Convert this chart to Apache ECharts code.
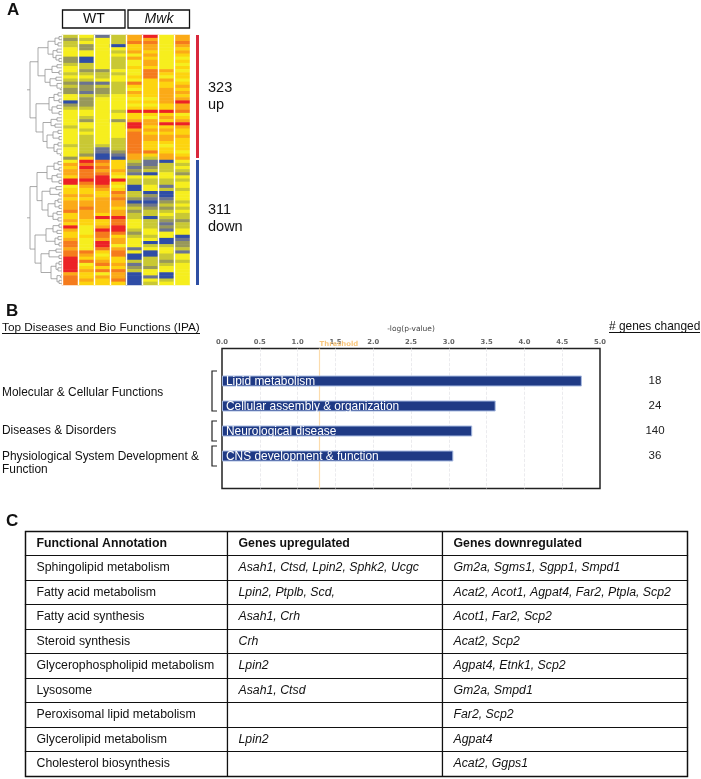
<!DOCTYPE html>
<html><head><meta charset="utf-8">
<style>html,body{margin:0;padding:0;background:#fff}#c{width:701px;height:779px}</style>
<script src="https://cdn.jsdelivr.net/npm/echarts@6/dist/echarts.min.js"></script>
</head><body><div id="c"></div>
<script>
// ---- Panel A: expression level codes, 0 = blue ... 8 = red, top to bottom
const wt1 = [3,2,3,3,4,4,4,2,2,3,4,4,3,4,3,2,3,2,2,4,4,0,2,3,4,4,4,4,4,3,4,4,4,4,4,3,4,4,4,2, 4,6,5,6,6,5,8,8,4,5,5,6,5,6,6,6,7,5,5,6,5,8,6,5,5,6,7,7,6,7,7,8,8,8,8,8,6,7,7,7];
const wt2 = [4,3,4,2,2,4,4,0,0,3,3,2,3,4,3,1,2,2,1,3,2,2,2,3,4,4,3,2,4,4,3,4,3,3,3,3,3,3,2,5, 8,7,8,7,7,7,8,7,6,5,5,6,5,6,6,7,6,6,6,5,5,4,4,4,5,4,4,4,4,7,6,5,7,4,5,6,5,5,6,5];
const wt3 = [1,4,4,4,4,4,4,4,4,4,4,2,3,3,4,1,3,2,2,3,4,4,4,4,4,4,4,4,4,4,4,4,4,4,4,3,1,1,0,0, 7,6,7,6,7,8,8,8,7,6,5,5,6,6,6,6,6,5,8,5,5,6,8,7,7,6,8,8,7,5,4,5,6,7,5,7,4,6,5,5];
const wt4 = [3,3,3,0,4,3,4,3,3,3,3,4,3,4,4,3,3,3,3,4,4,4,4,4,3,4,4,2,4,4,4,4,4,3,3,3,3,2,1,0, 5,5,5,6,5,4,8,5,4,5,7,6,7,6,6,5,6,6,8,7,7,8,8,7,5,6,6,4,6,7,7,5,5,6,5,7,6,6,7,5];
const mwk1 = [6,6,7,5,5,6,4,6,4,4,5,4,4,5,4,7,5,4,6,5,4,5,4,5,8,5,5,6,8,8,6,7,7,7,7,7,7,7,6,6, 3,2,1,2,1,4,3,3,0,0,3,3,2,0,2,3,2,3,3,4,4,4,3,2,3,4,4,4,1,4,0,0,3,1,2,3,0,0,0,0];
const mwk2 = [8,6,7,6,6,5,6,5,6,6,5,7,7,7,5,5,5,5,5,5,4,5,4,5,8,5,4,6,6,5,6,5,6,6,5,5,5,7,5,3, 1,1,2,3,0,4,3,3,4,4,0,2,1,0,1,2,3,3,0,3,3,3,4,4,3,4,0,3,4,0,0,3,3,3,2,4,4,1,4,3];
const mwk3 = [4,4,4,4,4,4,4,4,4,4,4,6,5,4,6,5,5,6,6,6,6,6,5,5,8,5,6,5,8,5,6,5,6,6,5,4,5,5,6,6, 0,3,3,3,4,4,3,3,1,3,0,0,1,2,3,2,3,4,3,2,1,2,1,4,4,0,0,3,4,4,3,3,2,3,4,4,0,0,3,4];
const mwk4 = [6,6,7,6,5,6,5,4,5,4,5,4,5,5,4,5,6,5,6,5,6,8,6,6,7,4,5,6,8,6,5,5,6,5,5,5,5,4,5,6, 4,3,4,3,2,4,3,4,4,3,4,4,4,3,4,3,4,3,3,2,3,3,4,4,0,1,2,2,3,1,4,4,3,4,4,4,4,4,4,4];
const heatColumns = [wt1, wt2, wt3, wt4, mwk1, mwk2, mwk3, mwk4];
const levelColors = ['#2f4da6','#6b7390','#98985a','#c9c834','#f6ee1e','#fdd40f','#fbaa17','#f57b1d','#ec2226'];

// Dendrogram: [height, childA, childB]; a plain number is a heat-map row
const treeUp = [32,
  [24,[14,[7,[3,0,1],[4,2,3]],[9,[5,4,5],[6,6,[3,7,8]]]],[17,[10,[5,9,10],[3,11,12]],[12,[6,13,14],[5,15,[2,16,17]]]]],
  [26,[13,[8,[4,18,19],[3,20,21]],[10,[5,22,23],[3,24,25]]],[19,[11,[5,26,27],[7,28,29]],[15,[9,[4,30,31],[3,32,33]],[8,[4,34,35],[5,36,[2,37,38]]]]]]];
const treeDown = [32,
  [25,[15,[8,[4,40,41],[3,42,43]],[10,[5,44,45],[3,46,47]]],[20,[12,[6,48,49],[3,50,51]],[14,[7,[4,52,53],[3,54,55]],[9,[5,56,57],[4,58,59]]]]],
  [27,[16,[9,[3,60,61],[5,62,63]],[7,[4,64,65],[3,66,67]]],[21,[13,[6,68,69],[3,70,71]],[11,[6,[3,72,73],[4,74,75]],[5,[2,76,77],[3,78,79]]]]]];

// ---- Panel B
const functionNames = ['Lipid metabolism','Cellular assembly & organization','Neurological disease','CNS development & function'];
const logPValues = [4.76,3.62,3.31,3.06];
const genesChanged = [18,24,140,36];
const thresholdValue = 1.29;
const functionSlots = [6,11,16,21];
const slotCount = 28;

// ---- Panel C
const tableHeader = ['Functional Annotation','Genes upregulated','Genes downregulated'];
const annotations = ['Sphingolipid metabolism','Fatty acid metabolism','Fatty acid synthesis','Steroid synthesis','Glycerophospholipid metabolism','Lysosome','Peroxisomal lipid metabolism','Glycerolipid metabolism','Cholesterol biosynthesis'];
const genesUp = ['Asah1, Ctsd, Lpin2, Sphk2, Ucgc','Lpin2, Ptplb, Scd,','Asah1, Crh','Crh','Lpin2','Asah1, Ctsd','','Lpin2',''];
const genesDown = ['Gm2a, Sgms1, Sgpp1, Smpd1','Acat2, Acot1, Agpat4, Far2, Ptpla, Scp2','Acot1, Far2, Scp2','Acat2, Scp2','Agpat4, Etnk1, Scp2','Gm2a, Smpd1','Far2, Scp2','Agpat4','Acat2, Ggps1'];

const FONT = '"Liberation Sans", Arial, sans-serif';
const heatData = [];
heatColumns.forEach((col,x)=>col.forEach((v,y)=>heatData.push([x,y,v])));
const rowCats = wt1.map((_,i)=>i);

const treeLine = [];
function walk(n){
  if(typeof n==='number') return {h:0,y:n};
  const a=walk(n[1]), b=walk(n[2]);
  treeLine.push([a.h,a.y],[n[0],a.y],[n[0],b.y],[b.h,b.y],[null,null]);
  return {h:n[0],y:(a.y+b.y)/2};
}
[treeUp,treeDown].forEach(t=>{const r=walk(t); treeLine.push([r.h,r.y],[r.h+3,r.y],[null,null]);});

const slots = Array.from({length:slotCount},(_,i)=>i);
const barData = slots.map(()=>null);
const rightLabels = slots.map(()=>'');
functionSlots.forEach((s,i)=>{barData[s]={value:logPValues[i],name:functionNames[i]};rightLabels[s]=String(genesChanged[i]);});

const t=(x,y,text,o={})=>({type:'text',x,y,silent:true,style:Object.assign({text,fill:'#111',font:(o.weight||'normal')+' '+(o.italic?'italic ':'')+(o.size||11.9)+'px '+FONT,textAlign:o.align||'left',textVerticalAlign:'middle'})});
const rect=(x,y,w,h,fill,stroke)=>({type:'rect',silent:true,shape:{x,y,width:w,height:h},style:{fill:fill||'none',stroke:stroke||null,lineWidth:1.3}});
const line=(x1,y1,x2,y2,c,w)=>({type:'line',silent:true,shape:{x1,y1,x2,y2},style:{stroke:c||'#111',lineWidth:w||1}});
const bracket=(x,y1,y2)=>({type:'polyline',silent:true,shape:{points:[[x+5,y1],[x,y1],[x,y2],[x+5,y2]]},style:{stroke:'#222',lineWidth:1.2,fill:'none'}});

const tableBody=[];
tableHeader.forEach((h,x)=>tableBody.push({coord:[x,0],value:h,label:{fontWeight:'bold'}}));
annotations.forEach((a,i)=>{
  tableBody.push({coord:[0,i+1],value:a});
  tableBody.push({coord:[1,i+1],value:genesUp[i],label:{fontStyle:'italic'}});
  tableBody.push({coord:[2,i+1],value:genesDown[i],label:{fontStyle:'italic'}});
});

const option={
  backgroundColor:'#fff',animation:false,textStyle:{fontFamily:FONT},
  grid:[
    {id:'heat',left:62,top:35,width:128,height:250},
    {id:'tree',left:24,top:35,width:38,height:250},
    {id:'bars',left:222,top:348.5,width:378,height:140,show:true,borderColor:'#222',borderWidth:1.5,backgroundColor:'transparent'}
  ],
  xAxis:[
    {gridIndex:0,type:'category',data:heatColumns.map((_,i)=>i),z:10,axisLine:{show:false},axisTick:{show:false},axisLabel:{show:false},splitLine:{show:true,lineStyle:{color:'#fff',width:1.4}}},
    {gridIndex:1,type:'value',inverse:true,min:0,max:38,show:false},
    {gridIndex:2,type:'value',position:'top',min:0,max:5,interval:0.5,name:'-log(p-value)',nameLocation:'middle',nameGap:15,nameTextStyle:{fontSize:7.5,color:'#444',fontFamily:'"DejaVu Sans"'},
      axisLine:{show:false},axisTick:{show:false},axisLabel:{fontSize:6.8,fontWeight:'bold',color:'#666',fontFamily:'"DejaVu Sans"',margin:3,formatter:v=>v.toFixed(1)},
      splitLine:{show:true,showMinLine:false,showMaxLine:false,lineStyle:{color:'#e6e6ea',type:'dashed',width:0.8}}}
  ],
  yAxis:[
    {gridIndex:0,type:'category',inverse:true,data:rowCats,show:false},
    {gridIndex:1,type:'value',inverse:true,min:-0.5,max:79.5,show:false},
    {gridIndex:2,type:'category',inverse:true,data:slots,axisLine:{show:false},axisTick:{show:false},axisLabel:{show:false},splitLine:{show:false}},
    {gridIndex:2,type:'category',inverse:true,position:'right',data:rightLabels,axisLine:{show:false},axisTick:{show:false},splitLine:{show:false},
      axisLabel:{show:true,interval:0,fontSize:11.5,color:'#222',margin:55,align:'center',fontFamily:FONT}}
  ],
  visualMap:{show:false,type:'piecewise',seriesIndex:0,dimension:2,pieces:levelColors.map((c,i)=>({value:i,color:c}))},
  matrix:{
    left:25.5,top:531,width:661.5,height:245,
    x:{show:false,data:[{value:'a',size:201.5},{value:'b',size:215},{value:'c',size:245}]},
    y:{show:false,data:Array.from({length:annotations.length+1},(_,i)=>String(i))},
    backgroundStyle:{color:'transparent',borderColor:'#111',borderWidth:1.3},
    body:{data:tableBody,itemStyle:{color:'#fff',borderColor:'#111',borderWidth:1.2},
      label:{show:true,fontSize:12.3,color:'#111',fontFamily:FONT,align:'left',position:'insideLeft',distance:8,overflow:'none'}}
  },
  series:[
    {type:'heatmap',xAxisIndex:0,yAxisIndex:0,data:heatData,itemStyle:{borderWidth:0},progressive:0,silent:true},
    {type:'line',xAxisIndex:1,yAxisIndex:1,data:treeLine,showSymbol:false,connectNulls:false,silent:true,lineStyle:{color:'#949494',width:0.8}},
    {type:'bar',xAxisIndex:2,yAxisIndex:2,data:barData,barWidth:11,silent:true,z:3,
      itemStyle:{color:'#1f3a85',borderColor:'#a8bbe2',borderWidth:1},
      label:{show:true,position:'insideLeft',distance:4,offset:[0,1],color:'#fff',fontSize:11.9,fontFamily:FONT,formatter:p=>p.name},
      markLine:{silent:true,z:1,symbol:'none',data:[{xAxis:thresholdValue}],lineStyle:{color:'#fbdcae',type:'solid',width:1.2},
        label:{show:true,position:'start',align:'left',formatter:'Threshold',color:'#f9c77e',fontSize:6.9,fontWeight:'bold',fontFamily:'"DejaVu Sans"',distance:1}}}
  ],
  graphic:{elements:[
    t(7,10,'A',{size:17,weight:'bold'}),
    t(6,311,'B',{size:17,weight:'bold'}),
    t(6,521,'C',{size:17,weight:'bold'}),
    rect(62.5,10,62.5,18,'#fff','#111'), rect(128,10,61.5,18,'#fff','#111'),
    t(94,19.5,'WT',{size:14,align:'center'}), t(159,19.5,'Mwk',{size:14,align:'center',italic:true}),
    rect(196,35,3,123,'#d9283c'), rect(196,160,3,125,'#2f4fa3'),
    t(208,88,'323',{size:14.5}), t(208,105,'up',{size:14.5}),
    t(208,210,'311',{size:14.5}), t(208,227,'down',{size:14.5}),
    t(2,328,'Top Diseases and Bio Functions (IPA)',{size:11.8}), line(2,333.5,200,333.5),
    t(609,327,'# genes changed',{size:11.9}), line(609,332.5,700,332.5),
    t(2,393,'Molecular & Cellular Functions'), t(2,431,'Diseases & Disorders'),
    t(2,456.5,'Physiological System Development &'), t(2,469.5,'Function'),
    bracket(212,371,411), bracket(212,421,441), bracket(212,446,466)
  ]}
};
const chart=echarts.init(document.getElementById('c'),null,{renderer:'canvas'});
chart.setOption(option);
</script></body></html>
